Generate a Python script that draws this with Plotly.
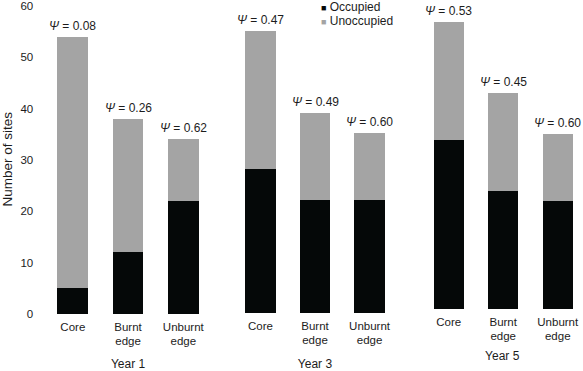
import plotly.graph_objects as go

# ---- data ----
categories = ["Core", "Burnt<br>edge", "Unburnt<br>edge"]
years = ["Year 1", "Year 3", "Year 5"]
occupied_y1 = [5, 12, 22]
unoccupied_y1 = [49, 26, 12]
occupied_y3 = [28, 22, 22]
unoccupied_y3 = [27, 17, 13]
occupied_y5 = [33, 23, 21]
unoccupied_y5 = [23, 19, 13]
psi_y1 = [0.08, 0.26, 0.62]
psi_y3 = [0.47, 0.49, 0.60]
psi_y5 = [0.53, 0.45, 0.60]
y_ticks = [0, 10, 20, 30, 40, 50, 60]

occupied = [occupied_y1, occupied_y3, occupied_y5]
unoccupied = [unoccupied_y1, unoccupied_y3, unoccupied_y5]
psi = [psi_y1, psi_y3, psi_y5]

# ---- styling ----
W, H = 583, 371
FONT = "Liberation Sans, Arial, Helvetica, sans-serif"
TXT = "#1c1c1c"
C_OCC = "#050808"
C_UNOCC = "#a4a4a4"


def fx(p):
    return p / W


def fy(p):
    return (H - p) / H


# pixel geometry of the three panels (x-domain, y bottom/top pixels, x range end, title standoff)
panels = [
    dict(xd=(45.2, 210.9), yd=(314, 6), xr=2.5, st=14),
    dict(xd=(233.2, 396.8), yd=(313, 5), xr=2.5, st=14),
    dict(xd=(421.4, 583.0), yd=(309, 1), xr=2.463, st=10),
]

fig = go.Figure()
annotations = []
for i, pnl in enumerate(panels):
    sfx = "" if i == 0 else str(i + 1)
    xa, ya = "x" + sfx, "y" + sfx
    fig.add_trace(go.Bar(x=categories, y=occupied[i], name="Occupied",
                         marker=dict(color=C_OCC, line=dict(width=0)),
                         width=0.555, xaxis=xa, yaxis=ya, showlegend=False))
    fig.add_trace(go.Bar(x=categories, y=unoccupied[i], name="Unoccupied",
                         marker=dict(color=C_UNOCC, line=dict(width=0)),
                         width=0.555, xaxis=xa, yaxis=ya, showlegend=False))
    for c, o, u, p in zip(categories, occupied[i], unoccupied[i], psi[i]):
        annotations.append(dict(x=c, y=o + u, xref=xa, yref=ya,
                                text="<i>Ψ</i> = %.2f" % p, showarrow=False,
                                yanchor="middle", yshift=11,
                                font=dict(size=12, color=TXT, family=FONT)))
    fig.update_layout(**{
        "xaxis" + sfx: dict(domain=[fx(pnl["xd"][0]), fx(pnl["xd"][1])],
                            anchor=ya, type="category", automargin=False,
                            range=[-0.5, pnl["xr"]],
                            showgrid=False, showline=False, zeroline=False,
                            ticks="", ticklabelstandoff=4,
                            tickfont=dict(size=11.5, color=TXT, family=FONT),
                            title=dict(text=years[i], standoff=pnl["st"],
                                       font=dict(size=12, color=TXT, family=FONT))),
        "yaxis" + sfx: dict(domain=[fy(pnl["yd"][0]), fy(pnl["yd"][1])],
                            anchor=xa, range=[0, 60], automargin=False,
                            showgrid=False, showline=False, zeroline=False,
                            showticklabels=(i == 0),
                            tickvals=y_ticks, ticks="",
                            ticklabelstandoff=11,
                            tickfont=dict(size=11.5, color=TXT, family=FONT)),
    })

# y-axis title
annotations.append(dict(x=fx(6.5), y=fy(159), xref="paper", yref="paper",
                        text="Number of sites", textangle=-90, showarrow=False,
                        xanchor="center", yanchor="middle",
                        font=dict(size=13.5, color=TXT, family=FONT)))
# legend
for j, (lab, col) in enumerate([("Occupied", C_OCC), ("Unoccupied", C_UNOCC)]):
    annotations.append(dict(x=fx(319), y=fy(6.5 + 14 * j), xref="paper", yref="paper",
                            text="<span style='color:%s;font-size:9px'>■</span> %s" % (col, lab),
                            showarrow=False, xanchor="left", yanchor="middle",
                            font=dict(size=12, color=TXT, family=FONT)))

fig.update_layout(
    width=W, height=H,
    margin=dict(l=0, r=0, t=0, b=0),
    barmode="stack",
    plot_bgcolor="white", paper_bgcolor="white",
    showlegend=False,
    hovermode=False,
    annotations=annotations,
    font=dict(family=FONT, color=TXT),
)

fig.write_html("out.html",
               config={"displayModeBar": False, "staticPlot": True},
               post_script="document.body.style.margin='0';document.body.style.overflow='hidden';")
